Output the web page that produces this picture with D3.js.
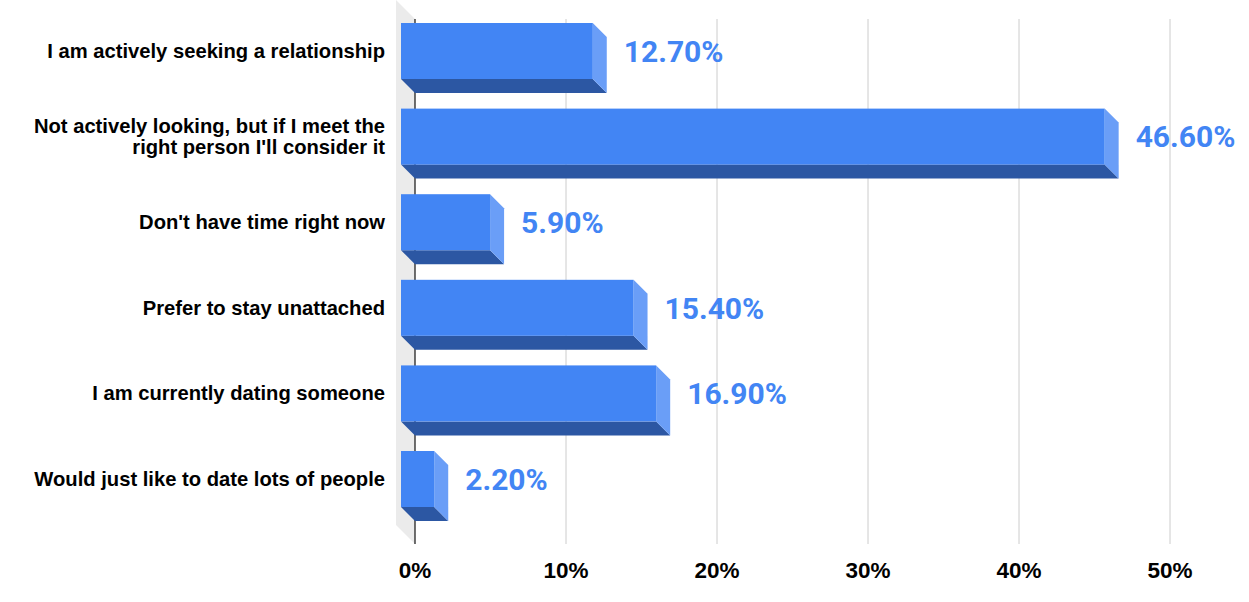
<!DOCTYPE html>
<html>
<head>
<meta charset="utf-8">
<script src="https://cdn.jsdelivr.net/npm/d3@7"></script>
<style>
  html, body { margin: 0; padding: 0; background: #fff; }
</style>
</head>
<body>
<div id="chart"></div>
<script>
(function()
{
    var categories = [
        "I am actively seeking a relationship",
        "Not actively looking, but if I meet the right person I'll consider it",
        "Don't have time right now",
        "Prefer to stay unattached",
        "I am currently dating someone",
        "Would just like to date lots of people"
    ];
    var values = [12.7, 46.6, 5.9, 15.4, 16.9, 2.2];
    var ticks = [0, 10, 20, 30, 40, 50];

    var width = 1249;
    var height = 602;
    var depth = 14;

    var svg = d3.select("#chart")
        .append("svg")
        .attr("width", width)
        .attr("height", height);

    var x = d3.scaleLinear()
        .domain([0, 50])
        .range([415, 1170]);

    var y = d3.scaleBand()
        .domain(categories)
        .range([22.2, 535.8])
        .paddingInner(0.346)
        .paddingOuter(0.173);

    // side wall
    svg.append("polygon")
        .attr("points", [[396, 0], [415, 19], [415, 544], [396, 525]].join(" "))
        .attr("fill", "#ebebeb");

    // gridlines
    svg.selectAll(".grid").data(ticks.slice(1))
        .enter().append("line")
        .attr("class", "grid")
        .attr("x1", function(d){return x(d)})
        .attr("x2", function(d){return x(d)})
        .attr("y1", 19)
        .attr("y2", 544)
        .attr("stroke", "#cccccc")
        .attr("stroke-width", 1);

    svg.append("line")
        .attr("x1", x(0)).attr("x2", x(0))
        .attr("y1", 19).attr("y2", 544)
        .attr("stroke", "#222222")
        .attr("stroke-width", 1.3);

    // tick labels
    svg.selectAll(".tick").data(ticks)
        .enter().append("text")
        .attr("class", "tick")
        .attr("x", function(d){return x(d)})
        .attr("y", 578)
        .attr("text-anchor", "middle")
        .attr("font-family", "Liberation Sans, Arial, sans-serif")
        .attr("font-weight", "bold")
        .attr("font-size", 22.5)
        .attr("fill", "#000")
        .text(function(d){return d + "%"});

    var bars = svg.selectAll(".bar").data(categories)
        .enter().append("g")
        .attr("class", "bar");

    // bottom face
    bars.append("polygon")
        .attr("fill", "#2c57a3")
        .attr("points", function(d, i) {
            var yb = y(d) + y.bandwidth();
            return [[x(0) - depth, yb - depth], [x(values[i]) - depth, yb - depth],
                    [x(values[i]), yb], [x(0), yb]].join(" ");
        });

    // side face
    bars.append("polygon")
        .attr("fill", "#6a9ef7")
        .attr("points", function(d, i) {
            var xr = x(values[i]);
            var yt = y(d);
            var yb = yt + y.bandwidth();
            return [[xr - depth, yt - depth], [xr, yt], [xr, yb], [xr - depth, yb - depth]].join(" ");
        });

    // front face
    bars.append("rect")
        .attr("fill", "#4285f4")
        .attr("x", x(0) - depth)
        .attr("y", function(d){return y(d) - depth})
        .attr("width", function(d, i){return x(values[i]) - x(0)})
        .attr("height", y.bandwidth());

    // value labels
    bars.append("text")
        .attr("x", function(d, i){return x(values[i]) + 17})
        .attr("y", function(d){return y(d) - depth + y.bandwidth() / 2})
        .attr("dy", "0.36em")
        .attr("font-family", "Roboto, sans-serif")
        .attr("font-weight", "bold")
        .attr("font-size", 30)
        .attr("fill", "#4285f4")
        .text(function(d, i){return values[i].toFixed(2) + "%"});

    // category labels, wrapped
    var labels = svg.selectAll(".cat").data(categories)
        .enter().append("text")
        .attr("class", "cat")
        .attr("text-anchor", "end")
        .attr("font-family", "Liberation Sans, Arial, sans-serif")
        .attr("font-weight", "bold")
        .attr("font-size", 20.2)
        .attr("fill", "#000");

    labels.each(function(d) {
        var t = d3.select(this);
        var words = d.split(" ");
        var lines = [];
        var line = [];
        var probe = t.append("tspan");
        words.forEach(function(w) {
            line.push(w);
            probe.text(line.join(" "));
            if (probe.node().getComputedTextLength() > 360 && line.length > 1) {
                line.pop();
                lines.push(line.join(" "));
                line = [w];
            }
        });
        lines.push(line.join(" "));
        probe.remove();
        var cy = y(d) - depth + y.bandwidth() / 2;
        var lh = 21;
        lines.forEach(function(l, k) {
            t.append("tspan")
                .attr("x", 385)
                .attr("y", cy + (k - (lines.length - 1) / 2) * lh)
                .attr("dy", "0.35em")
                .text(l);
        });
    });

})();
</script>
</body>
</html>
